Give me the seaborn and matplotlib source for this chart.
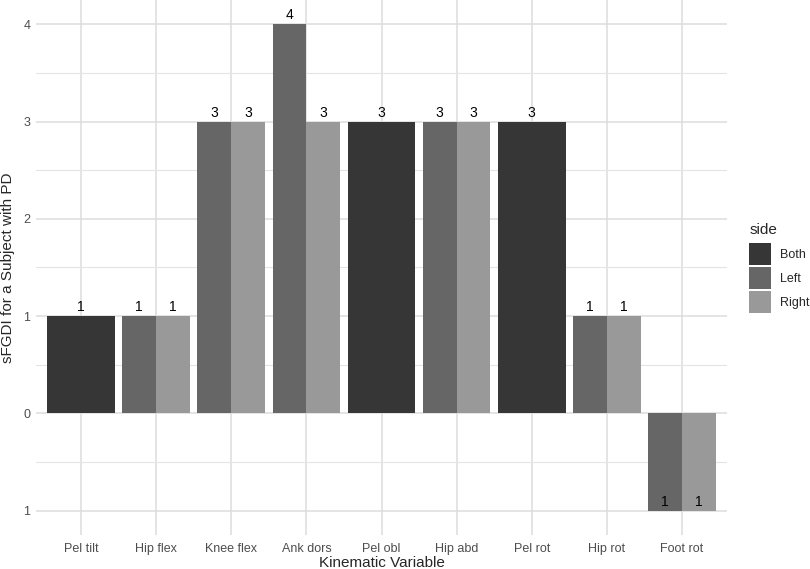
import matplotlib
matplotlib.use("Agg")
import matplotlib.pyplot as plt
from matplotlib.patches import Patch
import seaborn as sns
import numpy as np
import pandas as pd

categories = ["Pel tilt", "Hip flex", "Knee flex", "Ank dors", "Pel obl",
              "Hip abd", "Pel rot", "Hip rot", "Foot rot"]
bar_var = ["Pel tilt", "Hip flex", "Hip flex", "Knee flex", "Knee flex",
           "Ank dors", "Ank dors", "Pel obl", "Hip abd", "Hip abd",
           "Pel rot", "Hip rot", "Hip rot", "Foot rot", "Foot rot"]
bar_side = ["Both", "Left", "Right", "Left", "Right",
            "Left", "Right", "Both", "Left", "Right",
            "Both", "Left", "Right", "Left", "Right"]
bar_value = [1, 1, 1, 3, 3, 4, 3, 3, 3, 3, 3, 1, 1, -1, -1]
bar_text = ["1", "1", "1", "3", "3", "4", "3", "3", "3", "3", "3", "1", "1", "1", "1"]
sides = ["Both", "Left", "Right"]
side_colors = {"Both": "#363636", "Left": "#666666", "Right": "#999999"}
ytick_vals = [-1, 0, 1, 2, 3, 4]
ytick_labels = ["1", "0", "1", "2", "3", "4"]

df = pd.DataFrame({"var": bar_var, "side": bar_side, "value": bar_value, "text": bar_text})

sns.set_theme(style="white")
plt.rcParams["font.family"] = ["Liberation Sans", "DejaVu Sans"]

fig = plt.figure(figsize=(8.1, 5.69), dpi=100)
ax = fig.add_axes([36 / 810, 1 - 535 / 569, (727 - 36) / 810, 535 / 569])

total_w = 0.9
for i, cat in enumerate(categories):
    sub = df[df["var"] == cat]
    n = len(sub)
    w = total_w / n
    for j, (_, row) in enumerate(sub.iterrows()):
        x = i - total_w / 2 + w * (j + 0.5)
        ax.bar(x, row["value"], width=w, color=side_colors[row["side"]],
               edgecolor="none", zorder=3)
        ax.text(x, row["value"] + 0.02, row["text"], ha="center", va="bottom",
                fontsize=10, color="black", zorder=4)

ax.set_xticks(range(len(categories)))
ax.set_xticklabels(categories, fontsize=9, color="#4d4d4d")
ax.set_yticks(ytick_vals)
ax.set_yticklabels(ytick_labels, fontsize=9, color="#4d4d4d")
ax.set_yticks(np.arange(-0.5, 4.0, 1.0), minor=True)
ax.set_xlim(-0.6, len(categories) - 0.4)
ax.set_ylim(-1.25, 4.25)
ax.grid(True, which="major", color="#dcdcdc", linewidth=1.1, zorder=0)
ax.grid(True, which="minor", axis="y", color="#e4e4e4", linewidth=0.8, zorder=0)
ax.tick_params(axis="x", which="both", length=0, pad=6)
ax.tick_params(axis="y", which="both", length=0, pad=4)
for s in ax.spines.values():
    s.set_visible(False)
ax.set_xlabel("Kinematic Variable", fontsize=11, labelpad=0.5)
ax.set_ylabel("sFGDI for a Subject with PD", fontsize=11, labelpad=6)

handles = [Patch(facecolor=side_colors[s], edgecolor="none", label=s) for s in sides]
leg = fig.legend(handles=handles, title="side", loc="upper left",
                 bbox_to_anchor=(748 / 810, 1 - 222 / 569), frameon=False,
                 fontsize=9, title_fontsize=11, handlelength=1.75, handleheight=2.33,
                 labelspacing=0.16, handletextpad=0.7, borderaxespad=0,
                 borderpad=0.1)
leg._legend_box.align = "left"
leg._legend_box.sep = 4

fig.savefig("out.png", dpi=100)
